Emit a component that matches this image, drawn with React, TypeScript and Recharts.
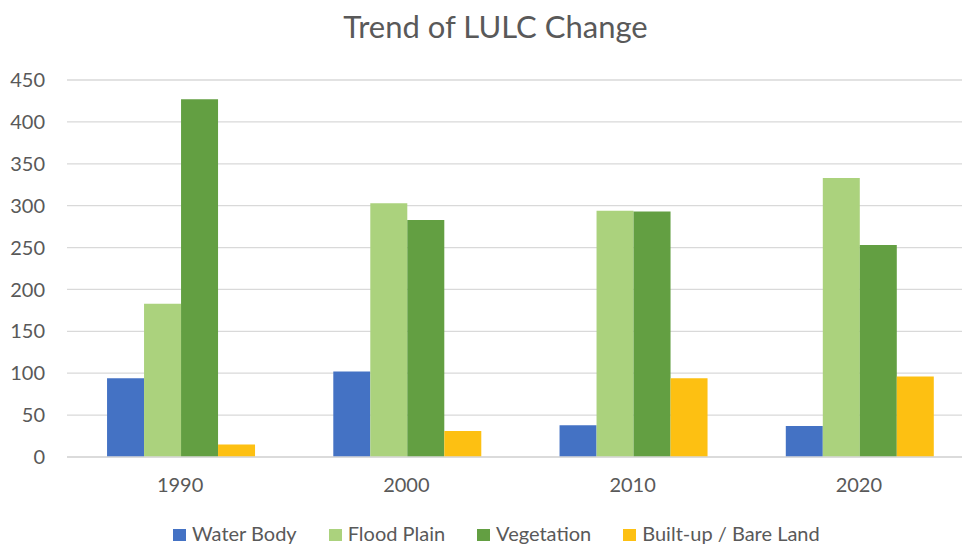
import { BarChart, Bar, XAxis, YAxis, CartesianGrid, Legend } from 'recharts';

// Years and land-cover areas
const years = ['1990', '2000', '2010', '2020'];
const waterBody = [94, 102, 38, 37];
const floodPlain = [183, 303, 294, 333];
const vegetation = [427, 283, 293, 253];
const builtUp = [15, 31, 94, 96];
const yTicks = [0, 50, 100, 150, 200, 250, 300, 350, 400, 450];

const SERIES = [
  { key: 'water', name: 'Water Body', color: '#4472C4' },
  { key: 'flood', name: 'Flood Plain', color: '#ABD27D' },
  { key: 'veg', name: 'Vegetation', color: '#639F42' },
  { key: 'built', name: 'Built-up / Bare Land', color: '#FDC012' },
];

const FONT = 'Lato, "Open Sans", sans-serif';
const TEXT = '#595959';

const data = years.map((year, i) => ({
  year,
  water: waterBody[i],
  flood: floodPlain[i],
  veg: vegetation[i],
  built: builtUp[i],
}));

function LegendRow() {
  return (
    <div style={{ display: 'flex', height: 20, paddingLeft: 173, fontFamily: FONT, fontSize: 20, lineHeight: '20px', color: TEXT }}>
      {SERIES.map(s => (
        <div key={s.key} style={{ display: 'flex', alignItems: 'flex-start', marginRight: 32, whiteSpace: 'nowrap' }}>
          <span style={{ width: 13, height: 12, background: s.color, marginTop: 6, marginRight: 6, display: 'inline-block' }} />
          <span>{s.name}</span>
        </div>
      ))}
    </div>
  );
}

export default function App() {
  return (
    <div style={{ position: 'fixed', left: 0, top: 0, width: 962, height: 545, overflow: 'hidden', background: '#fff' }}>
      <div
        style={{
          position: 'absolute', left: 0, top: 11, width: 991, textAlign: 'center',
          fontFamily: FONT, fontSize: 31, lineHeight: 1, color: TEXT,
        }}
      >
        Trend of LULC Change
      </div>
      <BarChart
        width={972}
        height={545}
        data={data}
        margin={{ top: 80, right: 0, bottom: 28, left: 0 }}
        barCategoryGap="17.7%"
        barGap={0}
      >
        <CartesianGrid vertical={false} stroke="#d9d9d9" strokeWidth={1.3} />
        <XAxis
          dataKey="year"
          height={40}
          tickLine={false}
          tickSize={0}
          tickMargin={21}
          axisLine={{ stroke: '#d9d9d9', strokeWidth: 1.3 }}
          tick={{ fill: TEXT, fontSize: 20, fontFamily: FONT }}
        />
        <YAxis
          width={67}
          domain={[0, 450]}
          ticks={yTicks}
          interval={0}
          axisLine={false}
          tickLine={false}
          tickSize={0}
          tickMargin={22}
          tick={{ fill: TEXT, fontSize: 20, fontFamily: FONT }}
        />
        <Legend
          verticalAlign="bottom"
          content={<LegendRow />}
          wrapperStyle={{ top: 523, left: 0, width: 962, height: 20 }}
        />
        {SERIES.map(s => (
          <Bar key={s.key} dataKey={s.key} name={s.name} fill={s.color} isAnimationActive={false} />
        ))}
      </BarChart>
    </div>
  );
}
